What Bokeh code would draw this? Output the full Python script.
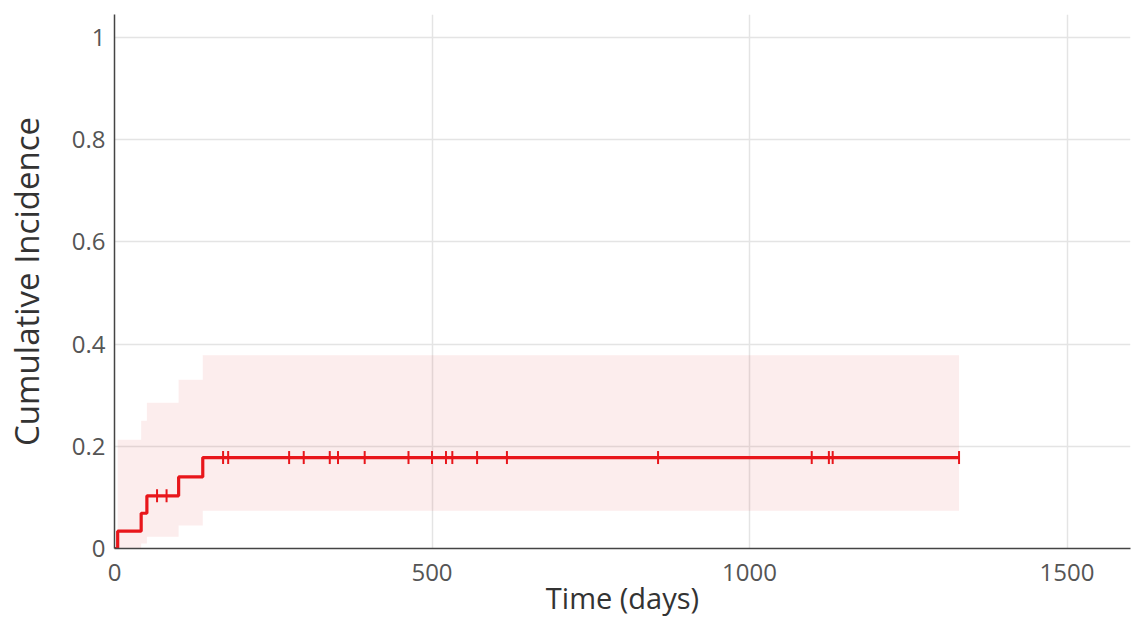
import math
from bokeh.plotting import figure
from bokeh.models import Range1d, NumeralTickFormatter
from bokeh.embed import file_html
from bokeh.resources import INLINE

# ---- data ----
event_days = [0, 5, 42, 51, 101, 139, 1330]
incidence = [0.0, 0.034, 0.069, 0.103, 0.140, 0.178, 0.178]

band_days = [5, 42, 51, 101, 139, 1330]
band_upper = [0.213, 0.250, 0.285, 0.330, 0.378, 0.378]
band_lower = [0.000, 0.010, 0.023, 0.045, 0.074, 0.074]

censor_days = [67, 82, 171, 179, 275, 298, 339, 352, 394, 463, 500, 522, 532,
               571, 618, 856, 1098, 1125, 1131, 1330]
censor_level = [0.103, 0.103] + [0.178] * 18

x_ticks = [0, 500, 1000, 1500]
y_ticks = [0, 0.2, 0.4, 0.6, 0.8, 1.0]

RED = "#e8161b"
FONT = "Open Sans"

p = figure(frame_width=1016, frame_height=534, output_backend="svg",
           toolbar_location=None,
           x_range=Range1d(0, 1600), y_range=Range1d(0, 1.045),
           min_border_left=106, min_border_right=2, min_border_top=14,
           min_border_bottom=60)
p.outline_line_color = None
p.background_fill_color = "white"

p.varea_step(x=band_days, y1=band_lower, y2=band_upper, step_mode="after",
             fill_color="#e03c3c", fill_alpha=0.09)

p.step(x=event_days, y=incidence, mode="after", line_color=RED, line_width=3.2)

p.scatter(x=censor_days, y=censor_level, marker="dash", size=13,
          angle=math.pi / 2, line_color=RED, line_width=2)

for ax in (p.xaxis, p.yaxis):
    ax.major_tick_line_color = None
    ax.minor_tick_line_color = None
    ax.axis_line_color = "#444444"
    ax.axis_line_width = 1.5
    ax.major_label_text_font = FONT
    ax.major_label_text_font_size = "24px"
    ax.major_label_text_color = "#555555"
    ax.axis_label_text_font = FONT
    ax.axis_label_text_font_style = "normal"
    ax.axis_label_text_color = "#333333"

p.xaxis.axis_label_text_font_size = "29px"
p.yaxis.axis_label_text_font_size = "33px"

p.xaxis.ticker = x_ticks
p.yaxis.ticker = y_ticks
p.yaxis.formatter = NumeralTickFormatter(format="0.[0]")
p.xaxis.axis_label = "Time (days)"
p.yaxis.axis_label = "Cumulative Incidence"
p.xaxis.major_label_standoff = 9
p.yaxis.major_label_standoff = 3
p.xaxis.axis_label_standoff = -6
p.yaxis.axis_label_standoff = 20

p.grid.grid_line_color = "#e4e4e4"
p.grid.grid_line_width = 1.5

open("out.html", "w").write(file_html(p, INLINE))
